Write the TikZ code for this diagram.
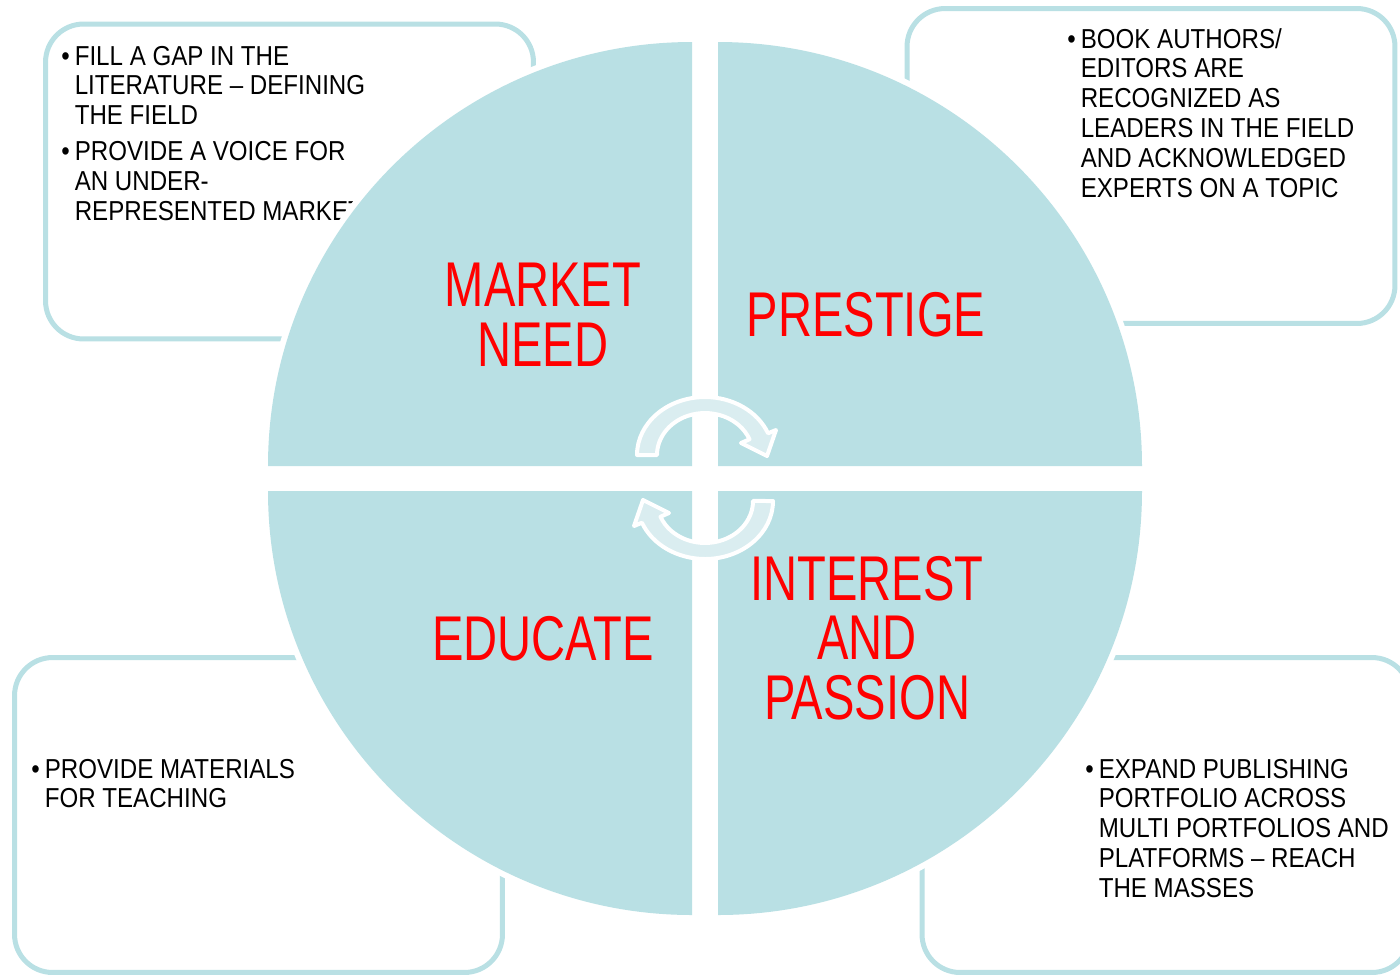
\documentclass[tikz,border=0pt]{standalone}
\usepackage{fontspec}
\usepackage{xcolor}
\usepackage{tikz}
\newfontfamily\boxfont[FakeStretch=0.88]{Liberation Sans}
\newfontfamily\quadfont[FakeStretch=0.745]{Liberation Sans}
\definecolor{ringblue}{RGB}{185,224,228}
\definecolor{arrowblue}{RGB}{218,237,240}
\definecolor{quadred}{RGB}{255,0,0}

\begin{document}
\begin{tikzpicture}[x=0.02cm, y=-0.02cm,
	infobox/.style={draw=ringblue, line width=0.1cm, fill=white, rounded corners=0.76cm,
		minimum width=9.76cm, minimum height=6.3cm},
	boxtext/.style={inner sep=0pt, anchor=base west, text=black,
		font=\boxfont\fontsize{15.6pt}{17pt}\selectfont},
	quadtext/.style={inner sep=0pt, align=center, text=quadred,
		font=\quadfont\fontsize{36pt}{34pt}\selectfont},
	quadhalo/.style={fill=white, draw=white, line width=0.24cm},
	quadfill/.style={fill=ringblue},
	cyclearrow/.style={fill=arrowblue, draw=white, line width=0.08cm, line join=round}]
			\useasboundingbox (0,0) rectangle (1400,975);
			\clip (0,0) rectangle (1400,975);

			% boxes behind the circle
			\node[infobox] (tlbox) at (289.5,181.5) {};
			\node[infobox] (trbox) at (1151,166) {};
			\node[infobox] (blbox) at (258.5,815) {};
			\node[infobox] (brbox) at (1166,815) {};

			\node[boxtext] (gaptext) at (61,65)
			{
				\begin{tabular}[t]{@{}l@{\hspace{0.1cm}}l@{}}
					\textbullet & FILL A GAP IN THE \\
					& LITERATURE – DEFINING \\
					& THE FIELD \\[0.12cm]
					\textbullet & PROVIDE A VOICE FOR \\
					& AN UNDER- \\
					& REPRESENTED MARKET
				\end{tabular}
			};
			\node[boxtext] (leadtext) at (1067,48)
			{
				\begin{tabular}[t]{@{}l@{\hspace{0.1cm}}l@{}}
					\textbullet & BOOK AUTHORS/ \\
					& EDITORS ARE \\
					& RECOGNIZED AS \\
					& LEADERS IN THE FIELD \\
					& AND ACKNOWLEDGED \\
					& EXPERTS ON A TOPIC
				\end{tabular}
			};
			\node[boxtext] (teachtext) at (31,778)
			{
				\begin{tabular}[t]{@{}l@{\hspace{0.1cm}}l@{}}
					\textbullet & PROVIDE MATERIALS \\
					& FOR TEACHING
				\end{tabular}
			};
			\node[boxtext] (reachtext) at (1085,778)
			{
				\begin{tabular}[t]{@{}l@{\hspace{0.1cm}}l@{}}
					\textbullet & EXPAND PUBLISHING \\
					& PORTFOLIO ACROSS \\
					& MULTI PORTFOLIOS AND \\
					& PLATFORMS – REACH \\
					& THE MASSES
				\end{tabular}
			};

			% four quarters
			\foreach \cx/\cy/\sa/\ea in {692/466/180/270, 718/466/270/360, 718/491/0/90, 692/491/90/180}
				\path[quadhalo] (\cx,\cy) -- +(\sa:424) arc[start angle=\sa, end angle=\ea, radius=424] -- cycle;
			\foreach \cx/\cy/\sa/\ea in {692/466/180/270, 718/466/270/360, 718/491/0/90, 692/491/90/180}
				\path[quadfill] (\cx,\cy) -- +(\sa:424) arc[start angle=\sa, end angle=\ea, radius=424] -- cycle;

			% cycle arrows
			\filldraw[cyclearrow] (637,455) arc[start angle=180, end angle=338, x radius=68, y radius=58]
				-- (776,430) -- (767,456) -- (741,443) -- (749.5,439.3)
				arc[start angle=338, end angle=180, x radius=48, y radius=42] -- cycle;
			\filldraw[cyclearrow] (773,501) arc[start angle=0, end angle=158, x radius=68, y radius=58]
				-- (634,526) -- (643,500) -- (669,513) -- (660.5,516.7)
				arc[start angle=158, end angle=0, x radius=48, y radius=42] -- cycle;

			\node[quadtext] (need) at (543,315) {MARKET\\NEED};
			\node[quadtext] (prestige) at (866,315) {PRESTIGE};
			\node[quadtext] (educate) at (543,639) {EDUCATE};
			\node[quadtext] (passion) at (867,638) {INTEREST\\AND\\PASSION};
		\end{tikzpicture}
\end{document}
